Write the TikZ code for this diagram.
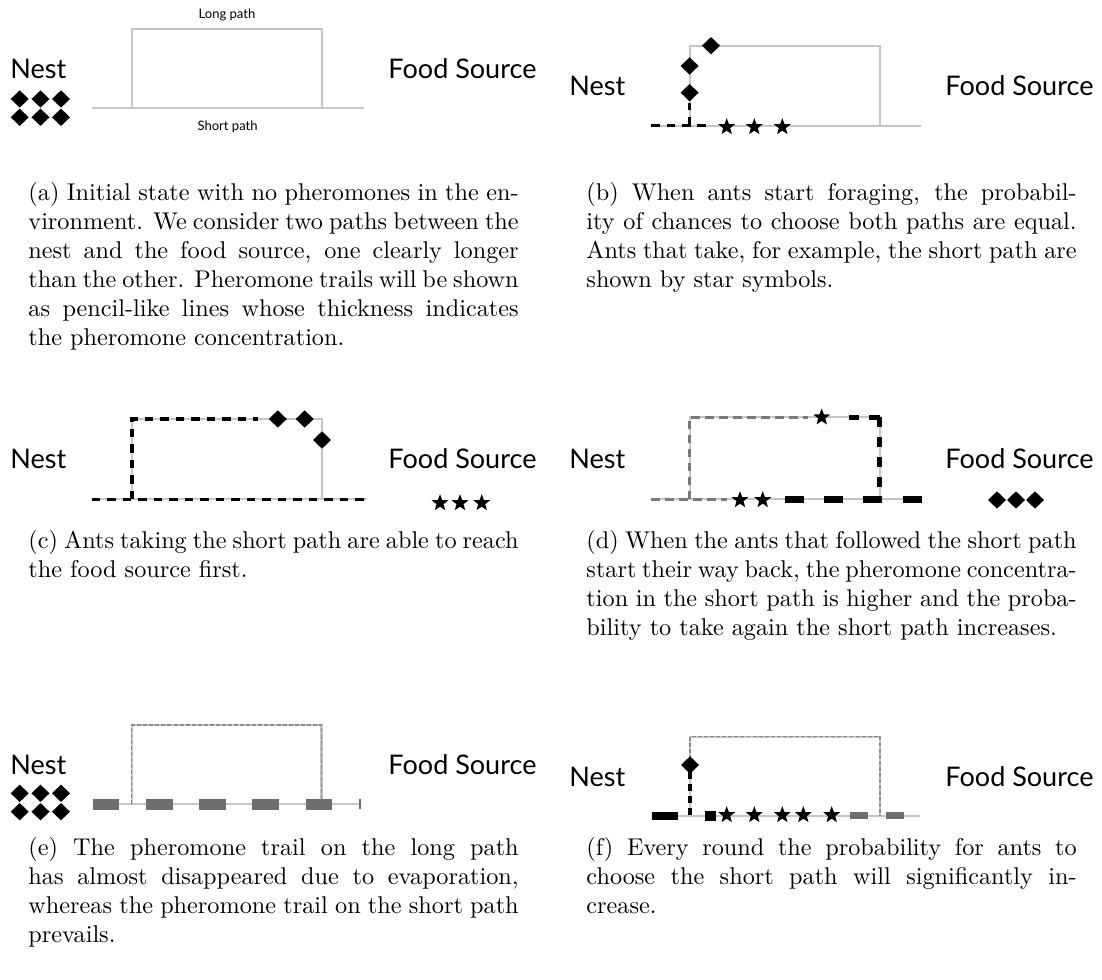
\documentclass[tikz,border=0pt]{standalone}
\usepackage{fontspec}
\newfontfamily\labelfont{Lato}
\usetikzlibrary{shapes.geometric}
\definecolor{pathgray}{HTML}{C6C6C6}
\definecolor{trailgray}{HTML}{7A7A7A}
\definecolor{bargray}{HTML}{6E6E6E}
\definecolor{fadegray}{HTML}{8A8A8A}
\begin{document}
\begin{tikzpicture}[x=0.4292pt,y=-0.4292pt,
  base/.style={draw=pathgray,line width=0.9pt},
  trail/.style={draw=black,line width=1.5pt,dash pattern=on 3.65pt off 3pt},
  oldtrail/.style={draw=trailgray,line width=1.5pt,dash pattern=on 3.7pt off 2.3pt},
  strongtrail/.style={draw=black,line width=2.3pt,dash pattern=on 4.3pt off 4.3pt},
  faded/.style={draw=fadegray,line width=0.55pt,dash pattern=on 1.7pt off 0.9pt},
  ant/.style={diamond,fill=black,inner sep=0pt,minimum width=7.9pt,minimum height=7.6pt},
  scout/.style={star,star points=5,star point ratio=2.4,fill=black,inner sep=0pt,minimum size=7.6pt},
  place/.style={font=\labelfont\fontsize{11.6}{13}\selectfont,inner sep=0pt,anchor=base west},
  pathlbl/.style={font=\labelfont\fontsize{5.6}{6.5}\selectfont,inner sep=0pt},
  capt/.style={text width=210.4pt,align=justify,inner sep=0pt,anchor=north west,
    font=\fontsize{10.4}{12.45}\selectfont}]
\path[use as bounding box] (0,0) rectangle (1102,980);

% ---------- (a) initial state ----------
\draw[base] (91.5,108.3) -- (364,108.3);
\draw[base] (132,108.3) -- (132,29) -- (322,29) -- (322,108.3);
\node[pathlbl] (a-long) at (227,15) {Long path};
\node[pathlbl] (a-short) at (227.6,127) {Short path};
\node[place] (a-nest) at (10,79) {Nest};
\node[place] (a-food) at (388,79) {Food Source};
\foreach \i/\x in {1/19.7,2/40.5,3/61}{
  \node[ant] (a-u\i) at (\x,99) {};
  \node[ant] (a-l\i) at (\x,117.3) {};
}
\node[capt] (a-cap) at (28,179.7) {\strut(a) Initial state with no pheromones in the environment. We consider two paths between the nest and the food source, one clearly longer than the other. Pheromone trails will be shown as pencil-like lines whose thickness indicates the pheromone concentration.};

% ---------- (b) foraging starts ----------
\draw[base] (650.6,125.7) -- (920.5,125.7);
\draw[base] (689.6,125.7) -- (689.6,45.7) -- (879.7,45.7) -- (879.7,125.7);
\draw[trail] (651,125.7) -- (709,125.7);
\draw[trail] (689.6,125.7) -- (689.6,103);
\node[place] (b-nest) at (569,96) {Nest};
\node[place] (b-food) at (945,96) {Food Source};
\node[ant] (b-a1) at (689.6,92.7) {};
\node[ant] (b-a2) at (689.6,66) {};
\node[ant] (b-a3) at (711,45.7) {};
\foreach \i/\x in {1/726.7,2/754.3,3/782.3}{
  \node[scout] (b-s\i) at (\x,127) {};
}
\node[capt] (b-cap) at (586,179.7) {\strut(b) When ants start foraging, the probability of chances to choose both paths are equal. Ants that take, for example, the short path are shown by star symbols.};

% ---------- (c) short path reaches food first ----------
\draw[base] (91.7,499.3) -- (366.7,499.3);
\draw[base] (132,499.3) -- (132,419) -- (322,419) -- (322,499.3);
\draw[trail] (91.7,499.3) -- (366.7,499.3);
\draw[trail] (132,499.3) -- (132,419) -- (258,419);
\node[place] (c-nest) at (10,469) {Nest};
\node[place] (c-food) at (388,469) {Food Source};
\node[ant] (c-a1) at (277.8,419) {};
\node[ant] (c-a2) at (304.7,419) {};
\node[ant] (c-a3) at (322,440) {};
\foreach \i/\x in {1/440,2/460,3/481.7}{
  \node[scout] (c-s\i) at (\x,503) {};
}
\node[capt] (c-cap) at (28,527.7) {\strut(c) Ants taking the short path are able to reach the food source first.};

% ---------- (d) return trip reinforces short path ----------
\draw[base] (651,499.3) -- (921.7,499.3);
\draw[base] (689.6,499.3) -- (689.6,417.3) -- (879.7,417.3) -- (879.7,499.3);
\draw[oldtrail] (651,499.3) -- (726.7,499.3);
\draw[oldtrail] (689.6,499.3) -- (689.6,417.3) -- (808,417.3);
\draw[draw=black,line width=1.9pt,dash pattern=on 4.4pt off 4.5pt] (848.6,417.3) -- (879.7,417.3);
\draw[strongtrail] (879.7,417.3) -- (879.7,499.3);
\foreach \x in {785,824,863,902.7}{
  \fill[black] (\x,495.8) rectangle ++(19,7);
}
\node[scout] (d-s1) at (821.7,417.3) {};
\node[scout] (d-s2) at (740,500) {};
\node[scout] (d-s3) at (762.7,500) {};
\node[place] (d-nest) at (569,469) {Nest};
\node[place] (d-food) at (945,469) {Food Source};
\foreach \i/\x in {1/997,2/1016,3/1035}{
  \node[ant] (d-a\i) at (\x,500) {};
}
\node[capt] (d-cap) at (586,527.7) {\strut(d) When the ants that followed the short path start their way back, the pheromone concentration in the short path is higher and the probability to take again the short path increases.};

% ---------- (e) evaporation on the long path ----------
\draw[base] (92.7,804.3) -- (360,804.3);
\draw[base] (131.7,804.3) -- (131.7,725) -- (321.5,725) -- (321.5,804.3);
\draw[faded] (131.7,804.3) -- (131.7,725) -- (321.5,725) -- (321.5,804.3);
\foreach \x in {92.7,146,199,252.3,305.7}{
  \fill[bargray] (\x,798.8) rectangle ++(26.7,11);
}
\fill[bargray] (358.8,799.3) rectangle ++(2.4,10);
\node[place] (e-nest) at (10,774.5) {Nest};
\node[place] (e-food) at (388,774.5) {Food Source};
\foreach \i/\x in {1/19.7,2/40.5,3/61}{
  \node[ant] (e-u\i) at (\x,793.3) {};
  \node[ant] (e-l\i) at (\x,811.7) {};
}
\node[capt] (e-cap) at (28,834.7) {\strut(e) The pheromone trail on the long path has almost disappeared due to evaporation, whereas the pheromone trail on the short path prevails.};

% ---------- (f) short path dominates ----------
\draw[base] (651,815.7) -- (920,815.7);
\draw[base] (690,815.7) -- (690,736.7) -- (880,736.7) -- (880,815.7);
\draw[faded] (690,765) -- (690,736.7) -- (880,736.7) -- (880,815.7);
\draw[draw=black,line width=1.5pt,dash pattern=on 3pt off 2.2pt] (690,772) -- (690,815.7);
\fill[black] (651.7,811.7) rectangle (678.3,819.7);
\fill[black] (705,810.7) rectangle (716,820.7);
\fill[bargray] (850,812.2) rectangle (867.7,819.2);
\fill[bargray] (886,812.2) rectangle (904,819.2);
\node[ant] (f-a1) at (690,765) {};
\foreach \i/\x in {1/726.7,2/754.3,3/782.3,4/803.3,5/831.7}{
  \node[scout] (f-s\i) at (\x,815) {};
}
\node[place] (f-nest) at (569,786) {Nest};
\node[place] (f-food) at (945,786) {Food Source};
\node[capt] (f-cap) at (586,834.7) {\strut(f) Every round the probability for ants to choose the short path will significantly increase.};
\end{tikzpicture}
\end{document}
